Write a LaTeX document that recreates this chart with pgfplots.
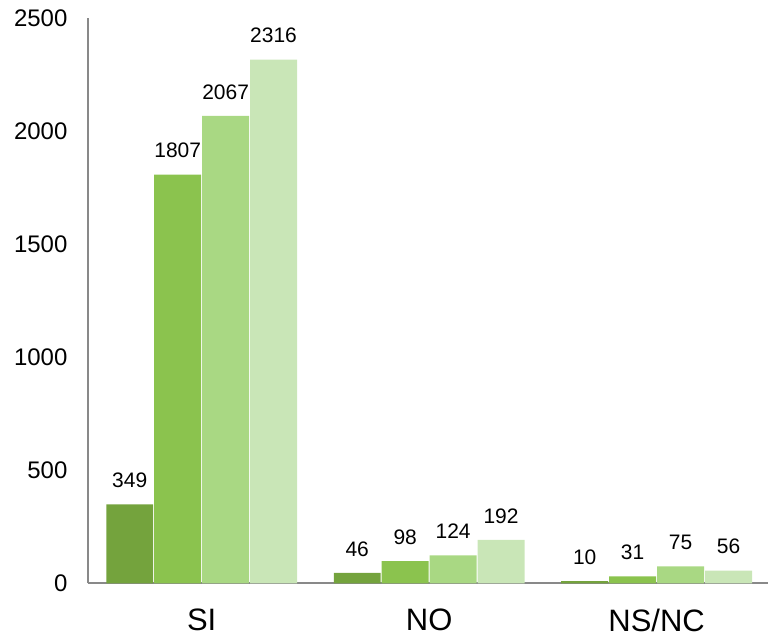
\documentclass[border=0pt]{standalone}
\usepackage{pgfplots}
\pgfplotsset{compat=1.18}
\usepackage{fontspec}
\setmainfont{Liberation Sans}
\definecolor{gA}{HTML}{74A33D}
\definecolor{gB}{HTML}{8BC34E}
\definecolor{gC}{HTML}{A9D883}
\definecolor{gD}{HTML}{C9E6B7}
\definecolor{axgray}{HTML}{898989}
\begin{document}
\begin{tikzpicture}[x=1pt,y=1pt]
\path (-88,-55) rectangle (681,584);
\begin{axis}[
  at={(0,0)}, anchor=south west,
  scale only axis, width=681pt, height=566pt,
  ymin=0, ymax=2500, xmin=-0.5, xmax=2.49,
  ytick={0,500,1000,1500,2000,2500},
  xtick={0,1,2}, xticklabels={SI,NO,NS/NC},
  axis x line=bottom, axis y line=left,
  axis line style={draw=axgray, line width=1.8pt, -},
  major tick length=0pt,
  /pgf/number format/assume math mode=true,
  /pgf/number format/1000 sep={},
  yticklabel style={font=\fontsize{24}{28}\selectfont, xshift=-17pt},
  xticklabel style={font=\fontsize{31}{36}\selectfont, yshift=-22pt},
  ybar=1pt, bar width=47pt,
  nodes near coords,
  every node near coord/.append style={font=\fontsize{21}{25}\selectfont, yshift=13pt},
  clip=false,
]
\addplot[fill=gA, draw=none] coordinates {(0,349) (1,46) (2,10)};
\addplot[fill=gB, draw=none] coordinates {(0,1807) (1,98) (2,31)};
\addplot[fill=gC, draw=none] coordinates {(0,2067) (1,124) (2,75)};
\addplot[fill=gD, draw=none] coordinates {(0,2316) (1,192) (2,56)};
\end{axis}
\end{tikzpicture}
\end{document}
